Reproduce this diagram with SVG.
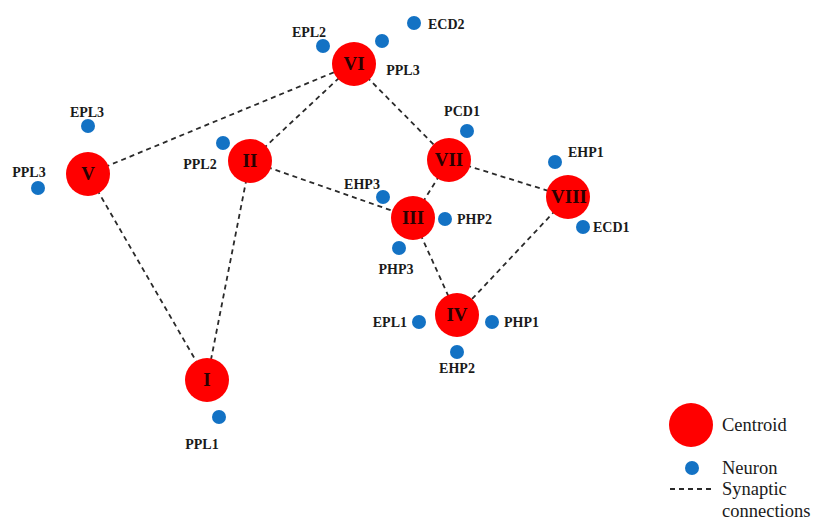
<svg xmlns="http://www.w3.org/2000/svg" width="814" height="523" viewBox="0 0 814 523">
  <style>
    .edge { stroke: #2a2a2a; stroke-width: 1.8; stroke-dasharray: 5 4; fill: none; }
    .centroid { fill: #ff0000; }
    .clabel { font-family: "Liberation Serif", "Times New Roman", serif; font-weight: bold; font-size: 19px; fill: #2a0000; text-anchor: middle; }
    .neuron { fill: #1372c4; }
    .nlabel { font-family: "Liberation Serif", "Times New Roman", serif; font-weight: bold; font-size: 14px; fill: #1a1a1a; }
    .mid { text-anchor: middle; }
    .end { text-anchor: end; }
    .legend { font-family: "Liberation Serif", "Times New Roman", serif; font-size: 18.5px; fill: #1a1a1a; }
  </style>
  <rect width="814" height="523" fill="#ffffff"/>

  <!-- synaptic connections between centroids -->
  <g id="connectors">
    <line class="edge" x1="88" y1="174" x2="354" y2="64"/>
    <line class="edge" x1="88" y1="174" x2="207" y2="380"/>
    <line class="edge" x1="250" y1="161" x2="354" y2="64"/>
    <line class="edge" x1="250" y1="161" x2="207" y2="380"/>
    <line class="edge" x1="250" y1="161" x2="413" y2="218"/>
    <line class="edge" x1="354" y1="64" x2="449" y2="160"/>
    <line class="edge" x1="449" y1="160" x2="413" y2="218"/>
    <line class="edge" x1="449" y1="160" x2="568" y2="197"/>
    <line class="edge" x1="413" y1="218" x2="457" y2="315"/>
    <line class="edge" x1="568" y1="197" x2="457" y2="315"/>
  </g>

  <!-- centroids -->
  <g id="c-I"><circle class="centroid" cx="207" cy="380" r="22"/><text class="clabel" x="207" y="386">I</text></g>
  <g id="c-II"><circle class="centroid" cx="250" cy="161" r="22"/><text class="clabel" x="250" y="167">II</text></g>
  <g id="c-III"><circle class="centroid" cx="413" cy="218" r="22"/><text class="clabel" x="413" y="224">III</text></g>
  <g id="c-IV"><circle class="centroid" cx="457" cy="315" r="22"/><text class="clabel" x="457" y="321">IV</text></g>
  <g id="c-V"><circle class="centroid" cx="88" cy="174" r="22"/><text class="clabel" x="88" y="180">V</text></g>
  <g id="c-VI"><circle class="centroid" cx="354" cy="64" r="22"/><text class="clabel" x="354" y="70">VI</text></g>
  <g id="c-VII"><circle class="centroid" cx="449" cy="160" r="22"/><text class="clabel" x="449" y="166">VII</text></g>
  <g id="c-VIII"><circle class="centroid" cx="568" cy="197" r="22"/><text class="clabel" x="569" y="203">VIII</text></g>

  <!-- neurons -->
  <g id="n-EPL3"><circle class="neuron" cx="88" cy="126" r="7"/><text class="nlabel mid" x="87" y="117">EPL3</text></g>
  <g id="n-PPL3-a"><circle class="neuron" cx="38" cy="188" r="7"/><text class="nlabel mid" x="29" y="177">PPL3</text></g>
  <g id="n-PPL2"><circle class="neuron" cx="223" cy="143" r="7"/><text class="nlabel mid" x="200" y="169">PPL2</text></g>
  <g id="n-EPL2"><circle class="neuron" cx="323" cy="46" r="7"/><text class="nlabel mid" x="309" y="37">EPL2</text></g>
  <g id="n-PPL3-b"><circle class="neuron" cx="382" cy="41" r="7"/><text class="nlabel mid" x="403" y="75">PPL3</text></g>
  <g id="n-ECD2"><circle class="neuron" cx="414" cy="23" r="7"/><text class="nlabel" x="428" y="29">ECD2</text></g>
  <g id="n-PCD1"><circle class="neuron" cx="467" cy="131" r="7"/><text class="nlabel mid" x="462" y="116">PCD1</text></g>
  <g id="n-EHP3"><circle class="neuron" cx="383" cy="197" r="7"/><text class="nlabel mid" x="362" y="189">EHP3</text></g>
  <g id="n-EHP1"><circle class="neuron" cx="555" cy="162" r="7"/><text class="nlabel" x="568" y="157">EHP1</text></g>
  <g id="n-PHP2"><circle class="neuron" cx="445" cy="219" r="7"/><text class="nlabel" x="457" y="224">PHP2</text></g>
  <g id="n-ECD1"><circle class="neuron" cx="583" cy="227" r="7"/><text class="nlabel" x="593" y="232">ECD1</text></g>
  <g id="n-PHP3"><circle class="neuron" cx="399" cy="248" r="7"/><text class="nlabel mid" x="396" y="274">PHP3</text></g>
  <g id="n-EPL1"><circle class="neuron" cx="419" cy="322" r="7"/><text class="nlabel end" x="407" y="327">EPL1</text></g>
  <g id="n-PHP1"><circle class="neuron" cx="492" cy="322" r="7"/><text class="nlabel" x="504" y="327">PHP1</text></g>
  <g id="n-EHP2"><circle class="neuron" cx="457" cy="352" r="7"/><text class="nlabel mid" x="457" y="373">EHP2</text></g>
  <g id="n-PPL1"><circle class="neuron" cx="219" cy="417" r="7"/><text class="nlabel mid" x="202" y="449">PPL1</text></g>

  <!-- legend -->
  <g id="legend">
    <circle class="centroid" cx="691" cy="425" r="22"/>
    <text class="legend" x="722" y="431">Centroid</text>
    <circle class="neuron" cx="692" cy="468" r="7"/>
    <text class="legend" x="722" y="474">Neuron</text>
    <line class="edge" x1="670" y1="489" x2="712" y2="489"/>
    <text class="legend" x="722" y="495">Synaptic</text>
    <text class="legend" x="722" y="517">connections</text>
  </g>
</svg>
